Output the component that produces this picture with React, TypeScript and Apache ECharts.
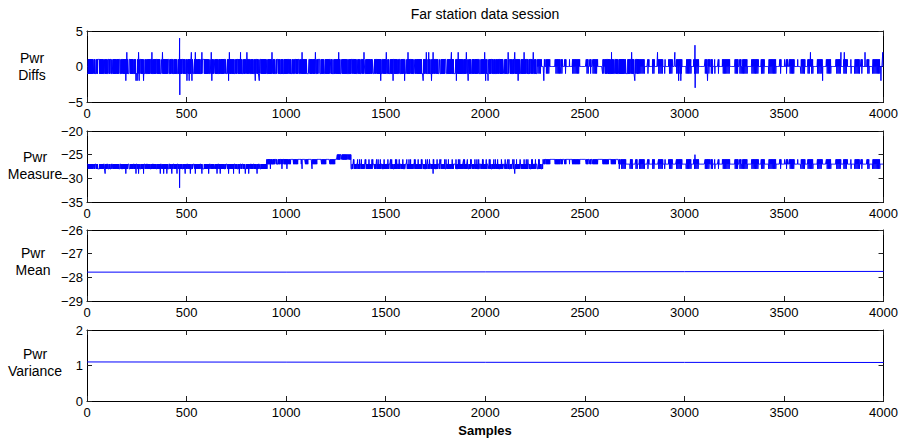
import React, { useEffect, useRef } from "react";
import * as echarts from "echarts";

// ---------- data ----------
const SAMPLES = 4000;

// segments: [start, end, baseLevel, altLevel, extraLevel, texture]
type Seg = [number, number, number, number, number | null, "dense" | "sparse"];

// Pwr Diffs
const diffSegs: Seg[] = [
  [0, 2260, -1, 1, null, "dense"],
  [2260, 2600, 0, 1, -1, "sparse"],
  [2600, 2770, -1, 1, null, "dense"],
  [2770, 4000, 0, 1, -1, "sparse"],
];
const diffSpikesUp = [199, 258, 325, 378, 523, 543, 576, 623, 714, 770, 802, 928, 1079, 1146, 1263, 1390, 1502, 1611, 1703, 1715, 1737, 1829, 1863, 1904, 1996, 2114, 2147, 2194, 2240, 2633, 2734, 2864, 2951, 3632, 3785, 3802, 3906, 3995];
const diffSpikesDown = [194, 245, 251, 261, 283, 501, 512, 526, 626, 710, 844, 864, 1474, 1536, 1594, 1687, 1729, 1854, 1913, 2001, 2013, 2164, 2293, 2750, 2970, 2981, 3115, 3693, 3986];
const diffBigSpikes: [number, number][] = [[464, 4], [465, -4], [3052, 3], [3053, -3]];

// Pwr Measure
const measureSegs: Seg[] = [
  [0, 900, -27, -28, null, "dense"],
  [900, 1010, -26, -27, null, "dense"],
  [1010, 1255, -26, -27, null, "sparse"],
  [1255, 1325, -25, -26, null, "dense"],
  [1325, 2290, -27, -28, -26, "dense"],
  [2290, 2670, -26, -27, null, "sparse"],
  [2670, 4000, -27, -26, -28, "sparse"],
];
const measureDips: [number, number][] = [
  [90, -29], [194, -29], [245, -29], [258, -29], [283, -29], [367, -29], [384, -29], [400, -29],
  [425, -29], [451, -29], [464, -32], [492, -29], [518, -29], [543, -29], [576, -29], [610, -29],
  [652, -29], [668, -29], [710, -29], [735, -29], [764, -29], [794, -29], [811, -29], [853, -29],
  [903, -28], [920, -28], [978, -28], [1003, -28], [1079, -28], [1129, -28], [1737, -29], [2147, -29],
  [3052, -25],
];

// Pwr Mean and Pwr Variance (slowly varying)
const meanX = [1, 1000, 2000, 3000, 4000];
const meanY = [-27.78, -27.78, -27.77, -27.76, -27.75];
const varX = [1, 1000, 2000, 3000, 4000];
const varY = [1.1, 1.095, 1.09, 1.088, 1.085];

const panelLabels = ["Pwr\nDiffs", "Pwr\nMeasure", "Pwr\nMean", "Pwr\nVariance"];
const yMins = [-5, -35, -29, 0];
const yMaxs = [5, -20, -26, 2];
const yIntervals = [5, 5, 1, 1];

// ---------- helpers ----------
function buildSeries(segs: Seg[], overrides: [number, number][]): number[][] {
  const vals: number[] = new Array(SAMPLES).fill(0);
  for (const [s, e, base, alt, extra, mode] of segs) {
    for (let i = s; i < e; i++) {
      let v = base;
      if (mode === "dense") {
        // alternating band with short held stretches (white gaps)
        if (i % 41 < 5 || (i % 67 > 30 && i % 67 < 35)) v = base;
        else if (i % 29 < 3 || i % 53 < 4) v = alt;
        else v = i % 2 === 0 ? base : alt;
        if (extra !== null && (i % 19 === 9 || i % 31 === 4)) v = extra;
      } else {
        // clusters of excursions separated by stretches at the base level
        const on = ((i % 47) < 26 || (i % 29) < 9) && (i % 83) > 14;
        if (on) {
          const m = i % 3;
          if (m === 1) v = alt;
          else if (m === 2 && extra !== null && i % 2 === 0) v = extra;
        }
      }
      vals[i] = v;
    }
  }
  for (const [p, v] of overrides) if (p >= 0 && p < SAMPLES) vals[p] = v;
  return vals.map((v, i) => [i + 1, v]);
}

const FONT = '"Liberation Sans", Arial, Helvetica, sans-serif';
const BLUE = "#0000ff";

export default function App() {
  const ref = useRef<HTMLDivElement>(null);
  useEffect(() => {
    if (!ref.current) return;
    const chart = echarts.init(ref.current, undefined, { renderer: "svg" });

    const diffData = buildSeries(diffSegs, [
      ...diffSpikesUp.map((p) => [p, 2] as [number, number]),
      ...diffSpikesDown.map((p) => [p, -2] as [number, number]),
      ...diffBigSpikes,
    ]);
    const measureData = buildSeries(measureSegs, measureDips);
    const meanData = meanX.map((x, i) => [x, meanY[i]]);
    const varData = varX.map((x, i) => [x, varY[i]]);
    const allData = [diffData, measureData, meanData, varData];

    const tops = [31, 131, 230, 330];
    const H = 71;
    const grids = tops.map((t) => ({ left: 87, right: 17, top: t, height: H, containLabel: false }));

    const axisLine = { show: true, onZero: false, lineStyle: { color: "#000", width: 1 } };
    const tick = { show: true, inside: true, length: 5, lineStyle: { color: "#222", width: 1 } };
    const xAxes: any[] = [];
    const yAxes: any[] = [];
    tops.forEach((_, k) => {
      xAxes.push({
        type: "value", gridIndex: k, min: 0, max: 4000, interval: 500, position: "bottom",
        axisLine, axisTick: tick, splitLine: { show: false },
        axisLabel: { show: true, color: "#000", fontSize: 13, fontFamily: FONT, margin: 5,
          formatter: (v: number) => String(v) },
      });
      xAxes.push({
        type: "value", gridIndex: k, min: 0, max: 4000, interval: 500, position: "top",
        axisLine, axisTick: tick, splitLine: { show: false }, axisLabel: { show: false },
      });
      yAxes.push({
        type: "value", gridIndex: k, min: yMins[k], max: yMaxs[k], interval: yIntervals[k], position: "left",
        axisLine, axisTick: tick, splitLine: { show: false },
        axisLabel: {
          show: true, color: "#000", fontSize: 13, fontFamily: FONT, margin: 4,
          formatter: (v: number) => String(v).replace("-", "\u2212"),
        },
      });
      yAxes.push({
        type: "value", gridIndex: k, min: yMins[k], max: yMaxs[k], interval: yIntervals[k], position: "right",
        axisLine, axisTick: tick, splitLine: { show: false }, axisLabel: { show: false },
      });
    });

    const series = allData.map((d, k) => ({
      type: "line", xAxisIndex: k * 2, yAxisIndex: k * 2, data: d,
      showSymbol: false, symbol: "none", silent: true,
      lineStyle: { color: BLUE, width: 1 },
    }));

    const labelPos = [[32, 66], [35, 165], [33, 261], [35, 362]];
    const graphics: any[] = panelLabels.map((t, k) => ({
      type: "text", x: labelPos[k][0], y: labelPos[k][1], silent: true,
      style: {
        text: t, fill: "#000", fontSize: 14, fontFamily: FONT, lineHeight: 17,
        align: "center", verticalAlign: "middle", textAlign: "center", textVerticalAlign: "middle",
      },
    }));
    graphics.push({
      type: "text", x: 485, y: 14, silent: true,
      style: { text: "Far station data session", fill: "#000", fontSize: 14, fontFamily: FONT,
        align: "center", verticalAlign: "middle", textAlign: "center", textVerticalAlign: "middle" },
    });
    graphics.push({
      type: "text", x: 485, y: 430, silent: true,
      style: { text: "Samples", fill: "#000", fontSize: 13, fontWeight: "bold", fontFamily: FONT,
        align: "center", verticalAlign: "middle", textAlign: "center", textVerticalAlign: "middle" },
    });

    chart.setOption({
      animation: false,
      backgroundColor: "#fff",
      grid: grids,
      xAxis: xAxes,
      yAxis: yAxes,
      series,
      graphic: graphics,
    });
    return () => chart.dispose();
  }, []);
  return (
    <div
      ref={ref}
      style={{ position: "fixed", left: 0, top: 0, width: 901, height: 440, background: "#fff" }}
    />
  );
}
